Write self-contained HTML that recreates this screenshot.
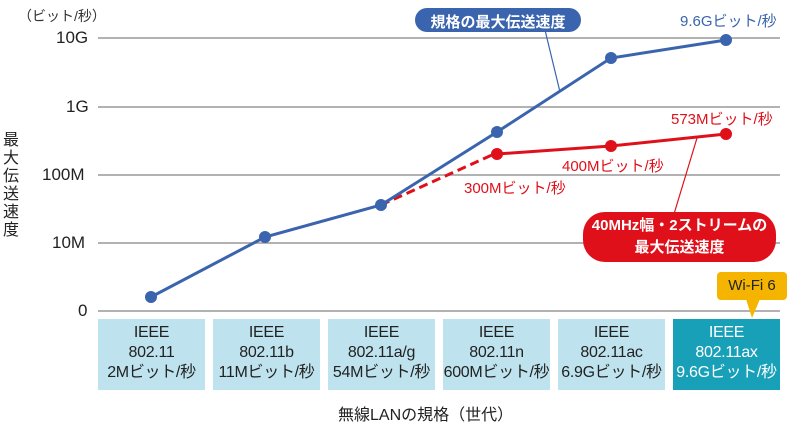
<!DOCTYPE html><html><head><meta charset="utf-8"><style>
body{margin:0;background:#fff;font-family:"Liberation Sans","Noto Sans CJK JP",sans-serif}
.box{position:absolute;top:319px;width:107px;height:71px;background:#bfe3ee;color:#222;font-size:16px;line-height:20px;text-align:center;padding-top:4px;box-sizing:border-box;white-space:nowrap;letter-spacing:-0.3px}
.t{position:absolute;white-space:nowrap}
</style></head><body>
<div style="position:relative;width:800px;height:426px;overflow:hidden">
<svg width="800" height="426" style="position:absolute;left:0;top:0">
<g stroke="#999" stroke-width="1.5">
<line x1="98" y1="38" x2="780" y2="38"/><line x1="98" y1="107" x2="780" y2="107"/>
<line x1="98" y1="175" x2="780" y2="175"/><line x1="98" y1="243" x2="780" y2="243"/>
<line x1="98" y1="311" x2="780" y2="311"/></g>
<line x1="545" y1="30" x2="560" y2="92" stroke="#3a64ad" stroke-width="1.2"/>
<line x1="697" y1="138" x2="674" y2="214" stroke="#e0101a" stroke-width="1.2"/>
<polyline points="381,205 492,155" fill="none" stroke="#e0101a" stroke-width="3" stroke-dasharray="9,5"/>
<polyline points="497,154 611,146 726,134" fill="none" stroke="#e0101a" stroke-width="3"/>
<g fill="#e0101a"><circle cx="497" cy="154" r="6"/><circle cx="611" cy="146" r="6"/><circle cx="726" cy="134" r="6"/></g>
<polyline points="151,297 265,237 381,205 497,132 611,58 726,40" fill="none" stroke="#3a64ad" stroke-width="3"/>
<g fill="#3a64ad"><circle cx="151" cy="297" r="6"/><circle cx="265" cy="237" r="6"/><circle cx="381" cy="205" r="6"/><circle cx="497" cy="132" r="6"/><circle cx="611" cy="58" r="6"/><circle cx="726" cy="40" r="6"/></g>
<rect x="415" y="8" width="166" height="24" rx="12" fill="#3a64ad"/>
<rect x="583" y="212" width="193" height="50" rx="22" fill="#e0101a"/>
<rect x="717" y="272" width="70" height="28" rx="4" fill="#f4b400"/>
<polygon points="746,299 760,299 752,318" fill="#f4b400"/>
</svg>
<div class="t" style="left:18px;top:6px;font-size:14px;color:#333">（ビット/秒）</div>
<div class="t" style="left:56px;top:28px;font-size:17px;color:#222">10G</div>
<div class="t" style="left:66px;top:97px;font-size:17px;color:#222">1G</div>
<div class="t" style="left:42px;top:165px;font-size:17px;color:#222">100M</div>
<div class="t" style="left:52px;top:233px;font-size:17px;color:#222">10M</div>
<div class="t" style="left:78px;top:301px;font-size:17px;color:#222">0</div>
<div class="t" style="left:3px;top:132px;width:18px;font-size:16px;line-height:18px;white-space:normal;color:#222">最大伝送速度</div>
<div class="t" style="left:415px;top:11px;width:166px;text-align:center;font-size:15px;color:#fff;font-weight:bold">規格の最大伝送速度</div>
<div class="t" style="left:680px;top:10px;font-size:15px;color:#3a64ad">9.6Gビット/秒</div>
<div class="t" style="left:671px;top:108px;font-size:15px;color:#e0101a">573Mビット/秒</div>
<div class="t" style="left:562px;top:155px;font-size:15px;color:#e0101a">400Mビット/秒</div>
<div class="t" style="left:464px;top:177px;font-size:15px;color:#e0101a">300Mビット/秒</div>
<div class="t" style="left:583px;top:215px;width:193px;text-align:center;font-size:15px;line-height:22px;color:#fff;font-weight:bold">40MHz幅・2ストリームの<br>最大伝送速度</div>
<div class="t" style="left:717px;top:277px;width:70px;text-align:center;font-size:15px;color:#222">Wi-Fi 6</div>
<div class="box" style="left:98px">IEEE<br>802.11<br>2Mビット/秒</div>
<div class="box" style="left:213px">IEEE<br>802.11b<br>11Mビット/秒</div>
<div class="box" style="left:328px">IEEE<br>802.11a/g<br>54Mビット/秒</div>
<div class="box" style="left:443px">IEEE<br>802.11n<br>600Mビット/秒</div>
<div class="box" style="left:558px">IEEE<br>802.11ac<br>6.9Gビット/秒</div>
<div class="box" style="left:673px;background:#17a0b8;color:#fff">IEEE<br>802.11ax<br>9.6Gビット/秒</div>
<div class="t" style="left:338px;top:401px;font-size:16px;color:#222">無線LANの規格（世代）</div>
</div></body></html>
